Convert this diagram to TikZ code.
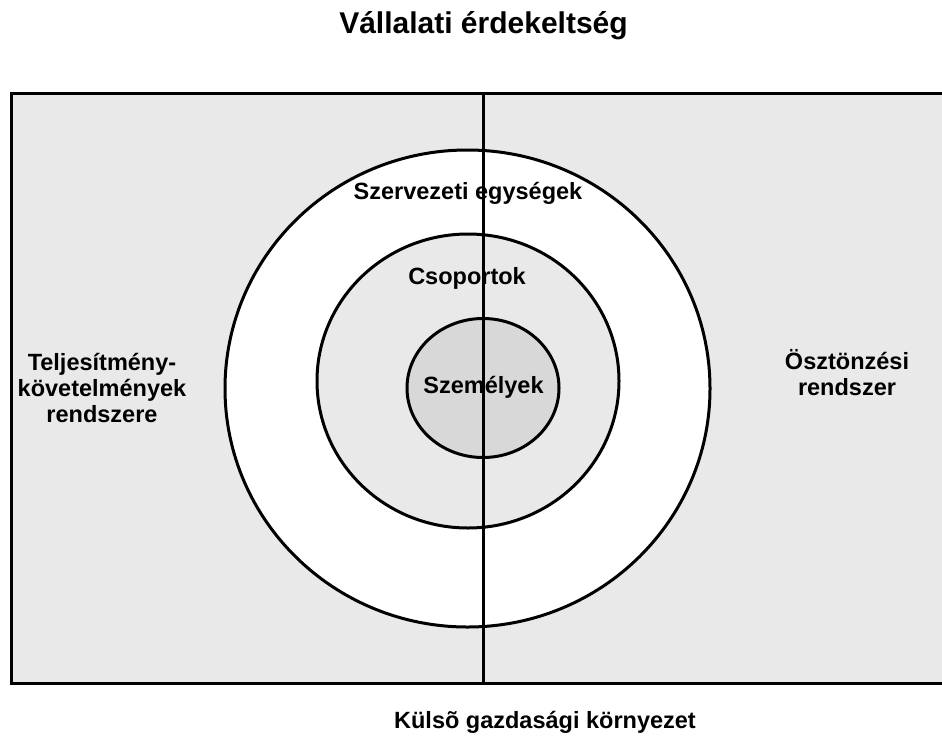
\documentclass[tikz,border=0pt]{standalone}
\usepackage{fontspec}
\setmainfont{Liberation Sans}
\definecolor{panelgray}{HTML}{E9E9E9}
\definecolor{coregray}{HTML}{D8D8D8}
\begin{document}
\begin{tikzpicture}[x=1pt,y=-1pt,
  lbl/.style={font=\bfseries\fontsize{23.5}{27}\selectfont, anchor=base, inner sep=0pt},
  heading/.style={font=\bfseries\fontsize{30}{34}\selectfont, anchor=base, inner sep=0pt},
  thick line/.style={draw=black, line width=3pt}]
\useasboundingbox (0,0) rectangle (942,739);
\clip (0,0) rectangle (942,739);
\fill[white] (0,0) rectangle (942,739);

% outer frame (runs past the right edge)
\draw[thick line, fill=panelgray] (11,93) rectangle (975,683);

% nested levels
\draw[thick line, fill=white]     (467.5,388.5) ellipse [x radius=242.5, y radius=238.5];
\draw[thick line, fill=panelgray] (468,381)     ellipse [x radius=151,   y radius=147];
\draw[thick line, fill=coregray]  (483,388)     ellipse [x radius=76,    y radius=69.5];

% vertical divider
\coordinate (divtop) at (483,93);
\coordinate (divbot) at (483,683);
\draw[thick line] (divtop) -- (divbot);

% texts
\node[heading] (title) at (483.5,33) {Vállalati érdekeltség};
\node[lbl] (units)  at (468,199)   {Szervezeti egységek};
\node[lbl] (groups) at (467,284)   {Csoportok};
\node[lbl] (people) at (483.5,393) {Személyek};
\node[lbl] (left1)  at (102,370)   {Teljesítmény-};
\node[lbl] (left2)  at (102,396)   {követelmények};
\node[lbl] (left3)  at (102,422)   {rendszere};
\node[lbl] (right1) at (847,369)   {Ösztönzési};
\node[lbl] (right2) at (847,395)   {rendszer};
\node[lbl] (env)    at (545,728)   {Külsõ gazdasági környezet};
\end{tikzpicture}
\end{document}
